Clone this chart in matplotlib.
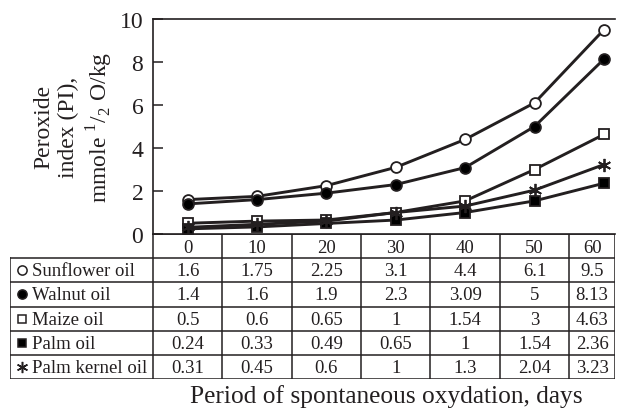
import matplotlib
matplotlib.use('Agg')
import matplotlib.pyplot as plt
import numpy as np

plt.rcParams['font.family'] = ['Liberation Serif', 'DejaVu Serif']
plt.rcParams['mathtext.fontset'] = 'custom'
plt.rcParams['mathtext.rm'] = 'Liberation Serif'

days = [0, 10, 20, 30, 40, 50, 60]
names = ['Sunflower oil', 'Walnut oil', 'Maize oil', 'Palm oil', 'Palm kernel oil']
sunflower = [1.6, 1.75, 2.25, 3.1, 4.4, 6.1, 9.5]
walnut = [1.4, 1.6, 1.9, 2.3, 3.09, 5, 8.13]
maize = [0.5, 0.6, 0.65, 1, 1.54, 3, 4.63]
palm = [0.24, 0.33, 0.49, 0.65, 1, 1.54, 2.36]
kernel = [0.31, 0.45, 0.6, 1, 1.3, 2.04, 3.23]
series = [sunflower, walnut, maize, palm, kernel]

# marker style per oil: (marker, face, size)
styles = [('o', 'white', 7.8), ('o', 'black', 7.8), ('s', 'white', 7.2),
          ('s', 'black', 7.2), ((6, 2, 0), 'black', 9.5)]

W, H = 617, 410
fig = plt.figure(figsize=(W / 100, H / 100), dpi=100)

ax_l, ax_r, ax_t, ax_b = 153, 615, 20, 235
ax = fig.add_axes([ax_l / W, 1 - ax_b / H, (ax_r - ax_l) / W, (ax_b - ax_t) / H])

lc = '#231f20'
draw_order = [3, 4, 2, 1, 0]
for i in draw_order:
    m, fc, ms = styles[i]
    ax.plot(days, series[i], color=lc, lw=2.1, marker=m, ms=ms,
            mfc=fc, mec=lc, mew=1.3, zorder=3 + i)

x0, x1 = -5.0, 61.6
ax.set_xlim(x0, x1)
ax.set_ylim(0, 10)
ax.set_yticks([0, 2, 4, 6, 8, 10])
ax.set_xticks([])
ax.tick_params(axis='y', direction='in', length=7, width=1.1, labelsize=17, pad=7,
               colors=lc)
ax.spines['right'].set_visible(False)
for s in ['left', 'top', 'bottom']:
    ax.spines[s].set_linewidth(1.2)
    ax.spines[s].set_color(lc)

fig.text(74 / W, 1 - 127 / H, 'Peroxide\nindex (PI),\nmmole $^{1}/_{2}$ O/kg',
         rotation=90, ha='center', va='center', fontsize=17, linespacing=1.25,
         color=lc)

# table below the plot, sharing the x scale of the days
tb_l, tb_t, tb_b = 10, 235, 380
px = (ax_r - ax_l) / (x1 - x0)
tx0 = x0 - (ax_l - tb_l) / px
tab = fig.add_axes([tb_l / W, 1 - tb_b / H, (ax_r - tb_l) / W, (tb_b - tb_t) / H])
tab.set_xlim(tx0, x1)
tab.set_ylim(6, 0)
tab.axis('off')

lw = 1.1
borders = [x0] + [d + 5 for d in days[:-1]] + [x1]
centers = [(a + b) / 2 for a, b in zip(borders[:-1], borders[1:])]
# horizontal lines
tab.plot([x0, x1], [0, 0], color=lc, lw=lw)
for r in range(1, 7):
    tab.plot([tx0, x1], [r, r], color=lc, lw=lw)
# vertical lines
for b in borders:
    tab.plot([b, b], [0, 6], color=lc, lw=lw)
tab.plot([tx0, tx0], [1, 6], color=lc, lw=lw)

fs = 13.5
for c, d in zip(centers, days):
    tab.text(c, 0.55, str(d), ha='center', va='center', fontsize=fs, color=lc)

for r, (name, vals) in enumerate(zip(names, series), start=1):
    m, fc, ms = styles[r - 1]
    tab.plot([tx0 + 1.75], [r + 0.5], marker=m, ms=ms * 0.85, mfc=fc, mec=lc,
             mew=1.1, ls='none')
    tab.text(tx0 + 3.1, r + 0.52, name, ha='left', va='center', fontsize=fs, color=lc)
    for c, v in zip(centers, vals):
        tab.text(c, r + 0.52, f'{v:g}', ha='center', va='center', fontsize=fs,
                 color=lc)

fig.text(386 / W, 1 - 397 / H, 'Period of spontaneous oxydation, days',
         ha='center', va='center', fontsize=18.3, color=lc)

fig.savefig('out.png', dpi=100)
